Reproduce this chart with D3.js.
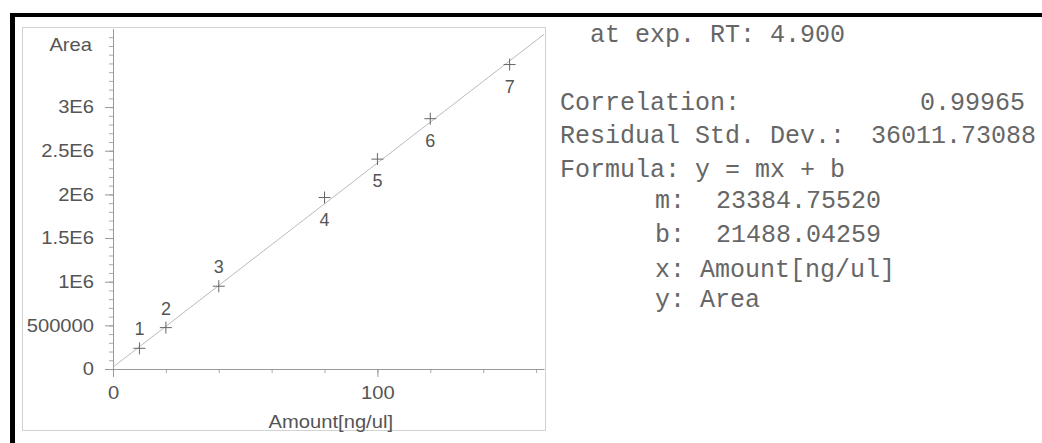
<!DOCTYPE html>
<html>
<head>
<meta charset="utf-8">
<script src="https://cdn.jsdelivr.net/npm/d3@7"></script>
<style>
  html, body { margin: 0; padding: 0; background: #fff; }
  svg { display: block; }
  .tick-label, .axis-title, .point-label { font-family: "Liberation Sans", Arial, sans-serif; font-size: 18px; fill: #555; }
  .stats { font-family: "Courier New", Courier, "Liberation Mono", monospace; font-size: 25px; fill: #666; white-space: pre; }
</style>
</head>
<body>
<div id="chart"></div>
<script>
  // calibration points
  var amounts = [10, 20, 40, 80, 100, 120, 150];
  var areas = [237000, 474000, 948000, 1964000, 2404000, 2867000, 3487000];
  var pointLabels = ['1', '2', '3', '4', '5', '6', '7'];

  var yTickValues = [0, 500000, 1000000, 1500000, 2000000, 2500000, 3000000];
  var yTickLabels = ['0', '500000', '1E6', '1.5E6', '2E6', '2.5E6', '3E6'];
  var xTickValues = [0, 100];
  var xTickLabels = ['0', '100'];

  var fitSlope = 23384.75520;
  var fitIntercept = 21488.04259;

  var statLabels = ['Correlation:', 'Residual Std. Dev.:', 'Formula: y = mx + b'];
  var statValues = ['0.99965', '36011.73088', ''];
  var paramLabels = ['m:', 'b:', 'x:', 'y:'];
  var paramValues = ['23384.75520', '21488.04259', 'Amount[ng/ul]', 'Area'];

  var width = 1042;
  var height = 443;
  var stretch = 1.12; // the scan is a bit wider than it is tall

  var svg = d3.select('#chart').append('svg')
    .attr('width', width)
    .attr('height', height);

  // scanner frame
  svg.append('rect').attr('x', 10).attr('y', 13).attr('width', width - 10).attr('height', 4).attr('fill', '#000');
  svg.append('rect').attr('x', 10).attr('y', 13).attr('width', 5).attr('height', height - 13).attr('fill', '#000');

  // printed panel outline
  svg.append('rect')
    .attr('x', 22.5).attr('y', 27.5)
    .attr('width', 523).attr('height', 403)
    .attr('fill', 'none')
    .attr('stroke', '#d2d2d2')
    .attr('stroke-width', 1);

  var xMax = 163;
  var yMax = 3900000;
  var xScale = d3.scaleLinear().domain([0, xMax]).range([113, 544]);
  var yScale = d3.scaleLinear().domain([0, yMax]).range([369, 28.5]);

  function stretchText(sel) {
    sel.each(function() {
      var t = d3.select(this);
      var x = +t.attr('x') || 0;
      t.attr('x', x / stretch).attr('transform', 'scale(' + stretch + ',1)');
    });
  }

  // minor ticks
  svg.append('g')
    .attr('transform', 'translate(' + xScale(0) + ',0)')
    .call(d3.axisLeft(yScale).tickValues(d3.range(0, yMax, 100000)).tickSize(4).tickSizeOuter(0).tickFormat(''))
    .call(function(g) { g.select('.domain').remove(); })
    .selectAll('line').attr('stroke', '#aaa');

  svg.append('g')
    .attr('transform', 'translate(0,' + yScale(0) + ')')
    .call(d3.axisBottom(xScale).tickValues(d3.range(0, xMax, 20)).tickSize(4).tickSizeOuter(0).tickFormat(''))
    .call(function(g) { g.select('.domain').remove(); })
    .selectAll('line').attr('stroke', '#aaa');

  // y axis
  var yAxisG = svg.append('g')
    .attr('transform', 'translate(' + xScale(0) + ',0)')
    .call(d3.axisLeft(yScale)
      .tickValues(yTickValues)
      .tickFormat(function(d, i) { return yTickLabels[i]; })
      .tickSize(8)
      .tickSizeOuter(0)
      .tickPadding(11));
  yAxisG.select('.domain').attr('stroke', '#999');
  yAxisG.selectAll('line').attr('stroke', '#999');
  yAxisG.selectAll('text')
    .attr('class', 'tick-label')
    .attr('fill', null)
    .call(stretchText);
  yAxisG.attr('font-family', null).attr('font-size', null);

  // x axis
  var xAxisG = svg.append('g')
    .attr('transform', 'translate(0,' + yScale(0) + ')')
    .call(d3.axisBottom(xScale)
      .tickValues(xTickValues)
      .tickFormat(function(d, i) { return xTickLabels[i]; })
      .tickSize(8)
      .tickSizeOuter(0)
      .tickPadding(9));
  xAxisG.select('.domain').attr('stroke', '#999');
  xAxisG.selectAll('line').attr('stroke', '#999');
  xAxisG.selectAll('text')
    .attr('class', 'tick-label')
    .attr('fill', null)
    .call(stretchText);
  xAxisG.attr('font-family', null).attr('font-size', null);

  // x-axis pokes out left of the y-axis
  svg.append('line')
    .attr('x1', xScale(0) - 8).attr('x2', xScale(0))
    .attr('y1', yScale(0) + 0.5).attr('y2', yScale(0) + 0.5)
    .attr('stroke', '#999');

  // axis titles
  svg.append('text')
    .attr('class', 'axis-title')
    .attr('text-anchor', 'end')
    .attr('x', 92).attr('y', 51)
    .text('Area')
    .call(stretchText);

  svg.append('text')
    .attr('class', 'axis-title')
    .attr('text-anchor', 'end')
    .attr('x', 393).attr('y', 428)
    .text('Amount[ng/ul]')
    .call(stretchText);

  // fitted line y = mx + b
  var line = d3.line()
    .x(function(d) { return xScale(d); })
    .y(function(d) { return yScale(fitSlope * d + fitIntercept); });
  svg.append('path')
    .datum([0, xMax])
    .attr('d', line)
    .attr('fill', 'none')
    .attr('stroke', '#bbb')
    .attr('stroke-width', 1);

  var points = amounts.map(function(a, i) {
    return { x: a, y: areas[i], label: pointLabels[i], i: i };
  });

  var pts = svg.append('g').selectAll('g.pt')
    .data(points)
    .enter().append('g')
    .attr('class', 'pt')
    .attr('transform', function(d) { return 'translate(' + xScale(d.x) + ',' + yScale(d.y) + ')'; });

  pts.append('path')
    .attr('d', 'M-6,0H6M0,-6V6')
    .attr('stroke', '#666')
    .attr('stroke-width', 1)
    .attr('fill', 'none');

  // first three labels sit above the mark, the rest below
  pts.append('text')
    .attr('class', 'point-label')
    .attr('text-anchor', 'middle')
    .attr('y', function(d) { return d.i < 3 ? -13 : 28; })
    .text(function(d) { return d.label; });

  // statistics text
  var stats = svg.append('g').attr('class', 'stats-block');

  stats.append('text')
    .attr('class', 'stats')
    .attr('x', 590).attr('y', 42)
    .text('at exp. RT: 4.900');

  var statY = [110, 143, 177];
  statLabels.forEach(function(label, i) {
    stats.append('text')
      .attr('class', 'stats')
      .attr('x', 560).attr('y', statY[i])
      .text(label);
    if (statValues[i]) {
      stats.append('text')
        .attr('class', 'stats')
        .attr('text-anchor', 'end')
        .attr('x', i === 0 ? 1025 : 1036).attr('y', statY[i])
        .text(statValues[i]);
    }
  });

  var paramY = [208, 242, 277, 307];
  paramLabels.forEach(function(label, i) {
    stats.append('text')
      .attr('class', 'stats')
      .attr('x', 655).attr('y', paramY[i])
      .text(label);
    stats.append('text')
      .attr('class', 'stats')
      .attr('x', i < 2 ? 716 : 700).attr('y', paramY[i])
      .text(paramValues[i]);
  });
</script>
</body>
</html>
